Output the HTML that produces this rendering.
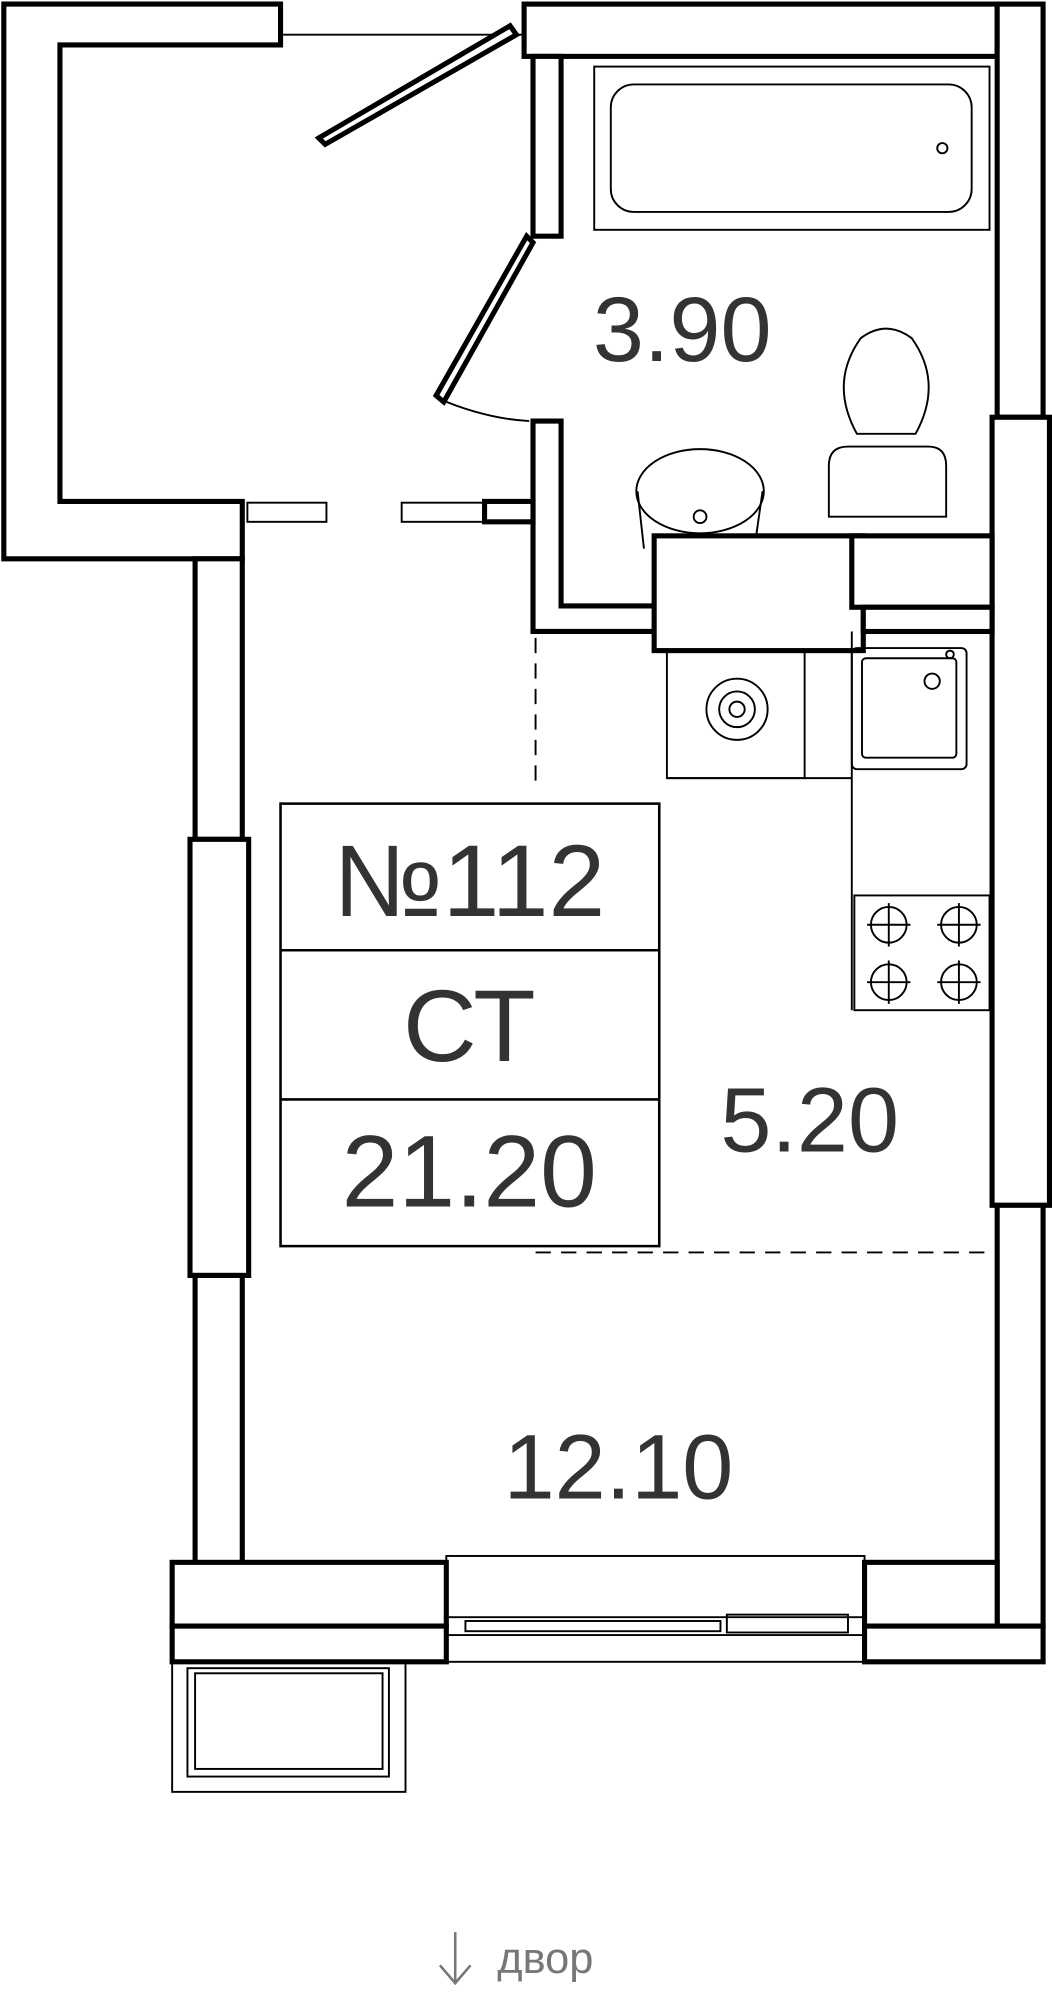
<!DOCTYPE html>
<html><head><meta charset="utf-8"><style>
html,body{margin:0;padding:0;background:#fff;}
svg{display:block;}
text{font-family:"Liberation Sans","DejaVu Sans",sans-serif;fill:#333;}
</style></head><body>
<svg width="1052" height="2000" viewBox="0 0 825 1568" xmlns="http://www.w3.org/2000/svg">
<g fill="#fff" stroke="#000" stroke-width="4" stroke-linejoin="miter">
<polygon points="3,3 220,3 220,35 47,35 47,393 190,393 190,438 3,438"/>
<rect x="153" y="438" width="37" height="220"/>
<rect x="149" y="658" width="46" height="342"/>
<rect x="153" y="1000" width="37" height="275"/>
<rect x="411" y="3" width="371" height="41"/>
<rect x="782" y="3" width="36" height="324"/>
<rect x="778" y="327" width="45" height="618"/>
<rect x="782" y="945" width="36" height="330"/>
<rect x="418" y="44" width="22" height="141"/>
<polygon points="418,330 440,330 440,475 515,475 515,495 418,495"/>
<rect x="513" y="420" width="164" height="90"/>
<rect x="668" y="420" width="110" height="56"/>
<rect x="677" y="476" width="101" height="19"/>
<rect x="380" y="393" width="38" height="16"/>
<rect x="135" y="1225" width="215" height="50"/>
<rect x="135" y="1275" width="215" height="28"/>
<rect x="678" y="1225" width="104" height="50"/>
<rect x="678" y="1275" width="140" height="28"/>
</g>
<g fill="none" stroke="#000" stroke-width="1.5">
<rect x="194" y="394" width="62" height="15"/>
<rect x="315" y="394" width="65" height="15"/>
<line x1="222" y1="27" x2="411" y2="27"/>
<rect x="350" y="1220" width="328" height="83"/>
<line x1="350" y1="1268" x2="678" y2="1268"/>
<line x1="350" y1="1282" x2="678" y2="1282"/>
<rect x="365" y="1271" width="200" height="8"/>
<rect x="570" y="1266" width="95" height="14"/>
<rect x="135" y="1303" width="183" height="102"/>
<rect x="147" y="1308" width="158" height="85"/>
<rect x="153" y="1312" width="147" height="75"/>
<rect x="466" y="52" width="310" height="128"/>
<rect x="479" y="66" width="283" height="100" rx="18"/>
<circle cx="739" cy="116" r="4"/>
<path d="M650,405 L650,365 Q650,350 665,350 L728,350 Q742,350 742,365 L742,405 Z"/>
<path d="M672,340 Q650,300 675,265 Q695,250 715,265 Q740,300 718,340 Z"/>
<ellipse cx="549" cy="385" rx="50" ry="33"/>
<path d="M500,385 L505,430 M598,385 L593,420"/>
<circle cx="549" cy="405" r="5"/>
<rect x="523" y="510" width="108" height="100"/>
<circle cx="578" cy="556" r="24"/><circle cx="578" cy="556" r="14"/><circle cx="578" cy="556" r="6"/>
<line x1="523" y1="610" x2="668" y2="610"/>
<line x1="668" y1="495" x2="668" y2="792"/>
<rect x="668" y="508" width="90" height="95" rx="4"/>
<rect x="676" y="516" width="74" height="78" rx="3"/>
<circle cx="731" cy="534" r="6"/>
<circle cx="745" cy="513" r="3"/>
<rect x="670" y="702" width="106" height="90"/>
<circle cx="697" cy="725" r="14"/><circle cx="752" cy="725" r="14"/>
<circle cx="697" cy="770" r="14"/><circle cx="752" cy="770" r="14"/>
<path d="M680,725h34M697,708v34M735,725h34M752,708v34M680,770h34M697,753v34M735,770h34M752,753v34"/>
<path d="M343,312 Q380,328 415,330"/>
</g>
<g fill="#fff" stroke="#000" stroke-width="4">
<polygon points="250,108 400,20 405,27 255,113"/>
<polygon points="413,185 418,190 348,315 342,310"/>
</g>
<g stroke="#000" stroke-width="1.5" stroke-dasharray="12,8">
<line x1="420" y1="500" x2="420" y2="615"/>
<line x1="420" y1="982" x2="780" y2="982"/>
</g>
<g fill="#fff" stroke="#000" stroke-width="2">
<rect x="220" y="630" width="297" height="347"/>
<line x1="220" y1="745" x2="517" y2="745"/>
<line x1="220" y1="862" x2="517" y2="862"/>
</g>
<text x="535" y="283" font-size="72" text-anchor="middle">3.90</text>
<text x="635" y="903" font-size="72" text-anchor="middle">5.20</text>
<text x="485" y="1175" font-size="72" text-anchor="middle">12.10</text>
<text x="368" y="718" font-size="80" text-anchor="middle">№112</text>
<text x="368" y="832" font-size="80" text-anchor="middle">СТ</text>
<text x="368" y="946" font-size="80" text-anchor="middle">21.20</text>
<g stroke="#777" stroke-width="2" fill="none"><line x1="357" y1="1515" x2="357" y2="1555"/><path d="M345,1541 L357,1555 L369,1541"/></g>
<text x="390" y="1547" font-size="34" style="fill:#777">двор</text>
</svg>
</body></html>
